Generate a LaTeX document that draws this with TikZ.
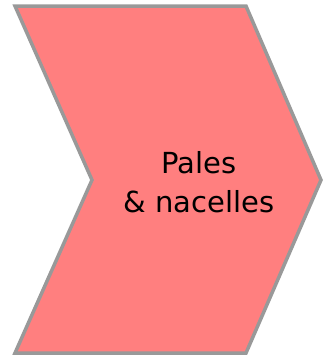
\documentclass[tikz,border=0pt]{standalone}
\usepackage{fontspec}
\setmainfont{DejaVu Sans}
\usepackage{tikz}
\usetikzlibrary{positioning,calc}
\usepackage{xcolor}
\definecolor{palered}{RGB}{255,127,127}
\definecolor{edgegray}{RGB}{153,153,153}

\begin{document}
\begin{tikzpicture}[x=1pt,y=-1pt]
\useasboundingbox (0,0) rectangle (322,359);
\draw[fill=palered,draw=edgegray,line width=3.5pt,line join=miter]
  (15,6)--(246,6)--(321,180)--(246,353)--(15,353)--(92,180)--cycle;
\node[align=center,font=\fontsize{29}{39}\selectfont] (label) at (199,182) {Pales\\\& nacelles};
\end{tikzpicture}
\end{document}
